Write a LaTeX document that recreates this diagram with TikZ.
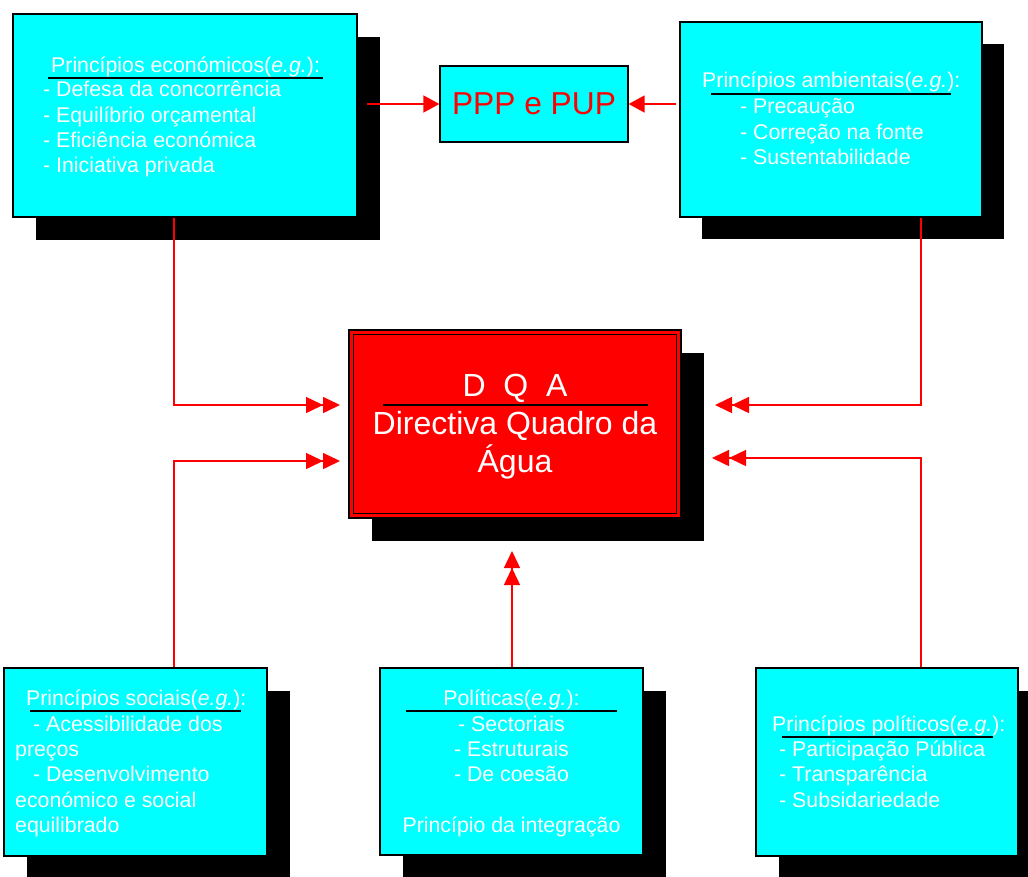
\documentclass[tikz,border=0pt]{standalone}
\usepackage{fontspec}
\setmainfont{Liberation Sans}
\usetikzlibrary{arrows.meta,shadows}
\definecolor{boxcyan}{RGB}{0,255,255}
\definecolor{boxred}{RGB}{255,0,0}
\begin{document}
\begin{tikzpicture}[x=1pt,y=-1pt,
  box/.style={draw=black,line width=1.2pt,fill=boxcyan,inner sep=0pt},
  shd/.style={drop shadow={shadow xshift=#1,shadow yshift=-#1,fill=black,opacity=1}},
  txt/.style={text=white,font=\fontsize{21.3}{25}\selectfont,inner sep=0pt,anchor=base west},
  ctxt/.style={txt,anchor=base},
  big/.style={text=white,font=\fontsize{32}{38}\selectfont,inner sep=0pt,anchor=base},
  ul/.style={draw=black,line width=1.5pt},
  con/.style={draw=boxred,line width=1.5pt},
  dbl/.style={-{Triangle[length=17pt,width=16pt]Triangle[length=17pt,width=16pt]}},
  sgl/.style={-{Triangle[length=16pt,width=17pt]}}]
\useasboundingbox (0,0) rectangle (1028,876);

% boxes
\node[box,shd=23pt,minimum width=344pt,minimum height=203pt] (eco) at (185,115.5) {};
\node[box,shd=22pt,minimum width=302pt,minimum height=195pt] (amb) at (831,119.5) {};
\node[box,minimum width=188pt,minimum height=76pt,text=boxred,font=\fontsize{31.7}{36}\selectfont] (ppp) at (534,104) {PPP e PUP};
\node[draw=black,line width=1.2pt,fill=boxred,shd=23pt,minimum width=332pt,minimum height=188pt] (dqa) at (515,424) {};
\draw[black,line width=1pt] ([shift={(5pt,-5pt)}]dqa.north west) rectangle ([shift={(-5pt,5pt)}]dqa.south east);
\node[box,shd=23pt,minimum width=263pt,minimum height=188pt] (soc) at (135.5,762) {};
\node[box,shd=23pt,minimum width=263pt,minimum height=187pt] (polt) at (511.5,761.5) {};
\node[box,shd=23pt,minimum width=262pt,minimum height=188pt] (pol) at (887,762) {};

% texts: economic
\node[txt] (e0) at (51,72) {Princípios económicos(\textit{e.g.}):};
\draw[ul] (48,78) -- (323,78);
\node[txt] (e1) at (43,96.7) {- Defesa da concorrência};
\node[txt] (e2) at (43,122) {- Equilíbrio orçamental};
\node[txt] (e3) at (43,147.3) {- Eficiência económica};
\node[txt] (e4) at (43,172.6) {- Iniciativa privada};

% environmental
\node[txt] (a0) at (702,87) {Princípios ambientais(\textit{e.g.}):};
\draw[ul] (711,94) -- (951,94);
\node[txt] (a1) at (740,113.5) {- Precaução};
\node[txt] (a2) at (740,139) {- Correção na fonte};
\node[txt] (a3) at (740,164.3) {- Sustentabilidade};

% social
\node[txt] (s0) at (26,705) {Princípios sociais(\textit{e.g.}):};
\draw[ul] (30,711) -- (241,711);
\node[txt] (s1) at (33,731) {- Acessibilidade dos};
\node[txt] (s2) at (15,756.4) {preços};
\node[txt] (s3) at (33,781.8) {- Desenvolvimento};
\node[txt] (s4) at (15,807.2) {económico e social};
\node[txt] (s5) at (15,832.6) {equilibrado};

% policies
\node[ctxt] (p0) at (511.5,705) {Políticas(\textit{e.g.}):};
\draw[ul] (406,711) -- (617,711);
\node[ctxt] (p1) at (511.5,731) {- Sectoriais};
\node[ctxt] (p2) at (511.5,756.4) {- Estruturais};
\node[ctxt] (p3) at (511.5,781.8) {- De coesão};
\node[ctxt] (p4) at (511.5,832.6) {Princípio da integração};

% political
\node[txt] (o0) at (772,731) {Princípios políticos(\textit{e.g.}):};
\draw[ul] (782,737) -- (993,737);
\node[txt] (o1) at (779,756.4) {- Participação Pública};
\node[txt] (o2) at (779,781.8) {- Transparência};
\node[txt] (o3) at (779,807.2) {- Subsidariedade};

% DQA
\node[big] (d0) at (515,396) {D~~Q~~A};
\draw[ul] (383,405) -- (648,405);
\node[big] (d1) at (515,434) {Directiva Quadro da};
\node[big] (d2) at (515,472) {Água};

% connectors
\coordinate (xL) at (174,0);
\coordinate (xR) at (921,0);
\coordinate (tL1) at (340,405);
\coordinate (tL2) at (340,461);
\coordinate (tR1) at (715,405);
\coordinate (tR2) at (712,458);
\coordinate (tB) at (512,551);
\coordinate (pL) at (367,104);
\coordinate (pR) at (676,104);
\draw[con,dbl] (eco.south -| xL) |- (tL1);
\draw[con,dbl] (amb.south -| xR) |- (tR1);
\draw[con,dbl] (soc.north -| xL) |- (tL2);
\draw[con,dbl] (pol.north -| xR) |- (tR2);
\draw[con,dbl] (polt.north -| tB) -- (tB);
\draw[con,sgl] (pL) -- (ppp.west);
\draw[con,sgl] (pR) -- (ppp.east);
\end{tikzpicture}
\end{document}
